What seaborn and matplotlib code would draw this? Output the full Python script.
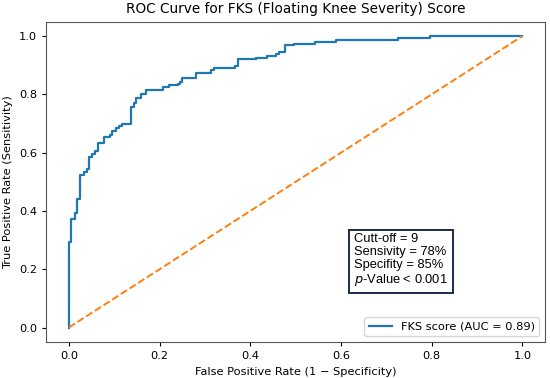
import matplotlib
matplotlib.use("Agg")
import matplotlib.pyplot as plt
import seaborn as sns
import pandas as pd

# ROC corner points (steps-post)
fpr = [0, 0, .005, .0125, .018, .024, .033, .039, .045, .052, .058, .064, .077,
       .090, .096, .104, .111, .118, .137, .143, .149, .158, .171, .208, .221,
       .241, .246, .250, .280, .314, .319, .366, .372, .412, .437, .457, .463,
       .476, .496, .543, .588, .725, .797, 1.0]
tpr = [0, .293, .374, .394, .442, .522, .534, .545, .585, .594, .606, .633, .654,
       .662, .674, .683, .691, .700, .757, .769, .789, .803, .815, .824, .831,
       .837, .843, .857, .872, .883, .891, .898, .920, .925, .932, .938, .946,
       .968, .973, .980, .986, .993, 1.0, 1.0]
chance = [0, 1]

auc = 0.89
box_lines = ["Cutt-off = 9", "Sensivity = 78%", "Specifity = 85%", "$\\it{p}$-Value < 0.001"]

df = pd.DataFrame({"fpr": fpr, "tpr": tpr})

fig, ax = plt.subplots(figsize=(5.5, 3.78), dpi=100)
fig.subplots_adjust(left=0.084, right=0.991, bottom=0.095, top=0.943)

sns.lineplot(data=df, x="fpr", y="tpr", estimator=None, sort=False,
             drawstyle="steps-post", color="#1f77b4", linewidth=1.6,
             label=f"FKS score (AUC = {auc:.2f})", ax=ax)
sns.lineplot(x=chance, y=chance, color="#ff7f0e", linestyle="--",
             linewidth=1.4, ax=ax)

ax.set_xlim(-0.05, 1.05)
ax.set_ylim(-0.05, 1.05)
ax.set_xticks([0, 0.2, 0.4, 0.6, 0.8, 1.0])
ax.set_yticks([0, 0.2, 0.4, 0.6, 0.8, 1.0])
ax.tick_params(labelsize=8.2, length=3)
for s in ax.spines.values():
    s.set_color("#555555")

ax.set_title("ROC Curve for FKS (Floating Knee Severity) Score", fontsize=9.8)
ax.set_xlabel("False Positive Rate (1 \u2212 Specificity)", fontsize=8.2)
ax.set_ylabel("True Positive Rate (Sensitivity)", fontsize=8.2)
ax.legend(loc="lower right", fontsize=8.2)

ax.text(0.628, 0.325, "\n".join(box_lines), family="Liberation Sans",
        fontsize=9.3, va="top", ha="left", linespacing=1.12,
        bbox=dict(boxstyle="square,pad=0.4", fc="white", ec="#1c2a48", lw=1.4))

fig.savefig("out.png", dpi=100)
